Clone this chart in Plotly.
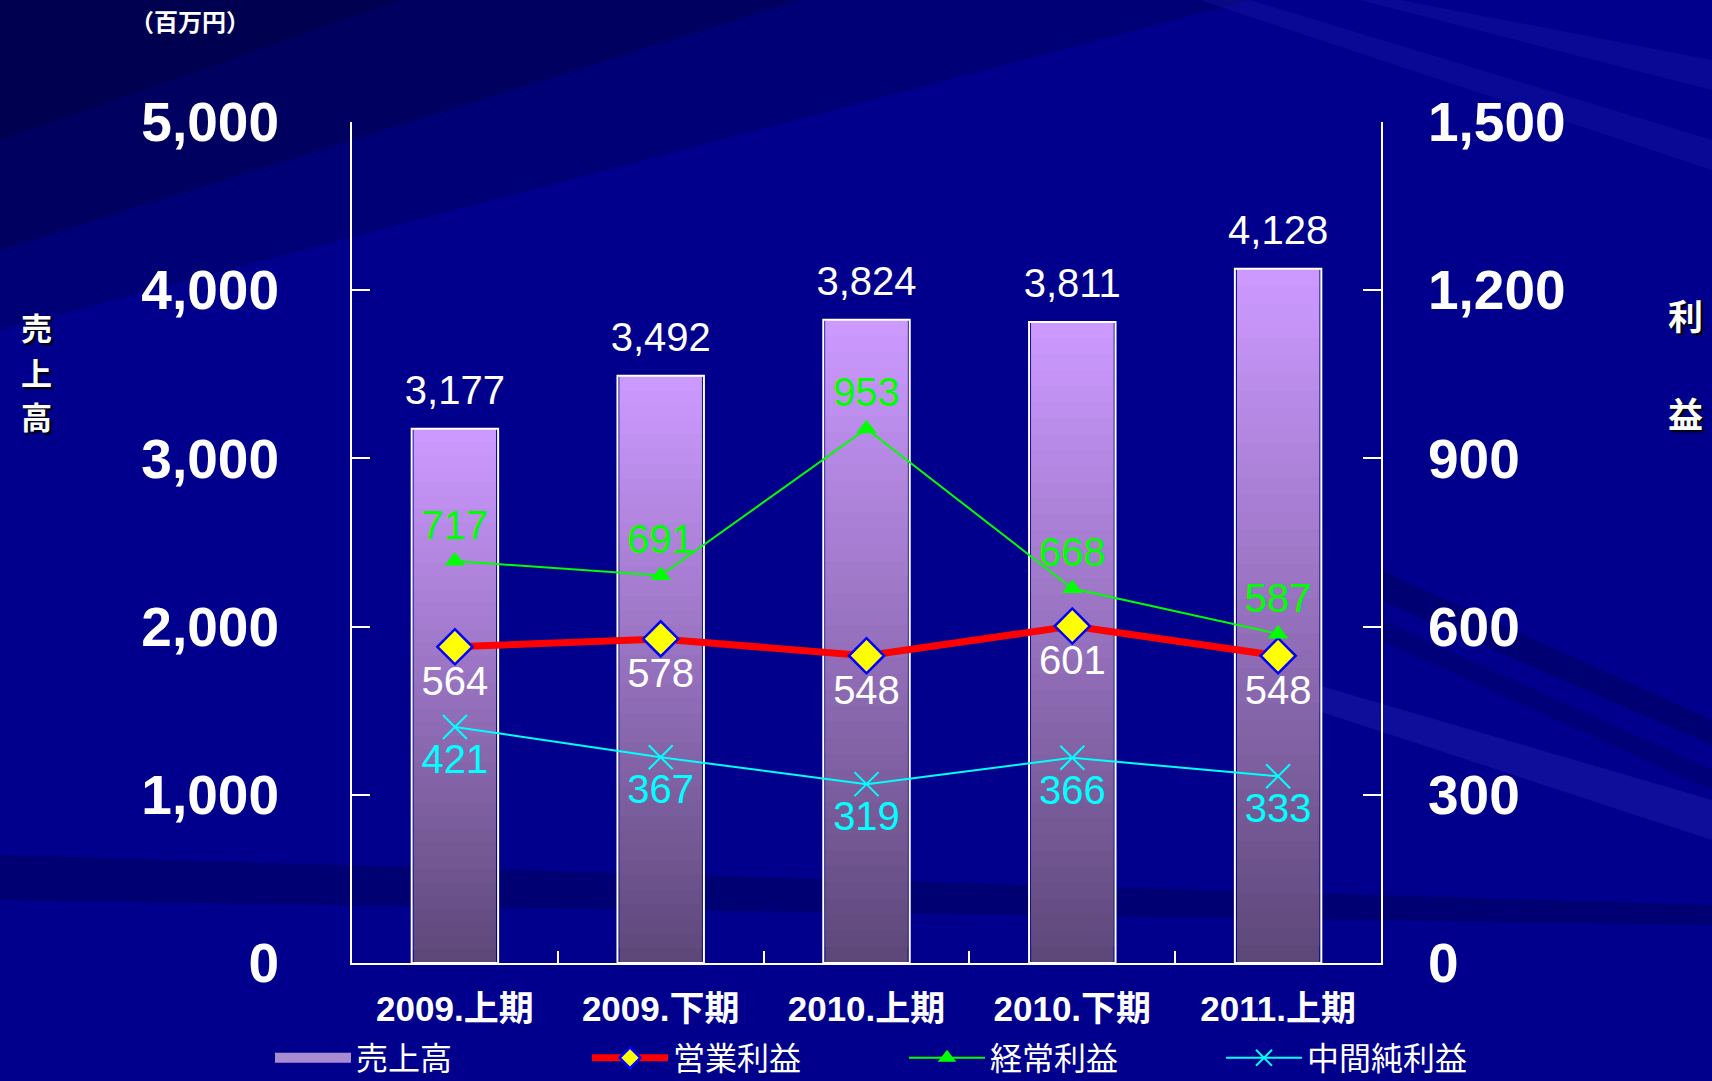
import plotly.graph_objects as go

categories = ["2009.上期", "2009.下期", "2010.上期", "2010.下期", "2011.上期"]
sales = [3177, 3492, 3824, 3811, 4128]
operating_profit = [564, 578, 548, 601, 548]
ordinary_profit = [717, 691, 953, 668, 587]
net_profit = [421, 367, 319, 366, 333]

W, H = 1712, 1081
L, R, T, B = 352, 1381, 122, 963


def px(x):
    return (x - L) / (R - L)


def py(y):
    return (B - y) / (B - T)


CJK = "Liberation Sans, Noto Sans CJK JP, sans-serif"
JP = "Noto Sans CJK JP, Liberation Sans, sans-serif"

fig = go.Figure()

# legend carrier for sales bars (thick line as a wide legend swatch)
fig.add_trace(go.Scatter(
    x=[categories[0]], y=[None], name="売上高", mode="lines",
    line=dict(color="#A98BD2", width=22),
    hoverinfo="skip", legendrank=1,
))

# gradient segments
N = 40
top_c = (204, 153, 255)
bot_c = (94, 72, 122)
for k in range(N):
    t = k / (N - 1)
    c = tuple(round(bot_c[i] + (top_c[i] - bot_c[i]) * t) for i in range(3))
    base = [v * k / N for v in sales]
    hgt = [v * (min(k + 2, N) - k) / N for v in sales]
    fig.add_trace(go.Bar(
        x=categories, y=hgt, base=base, width=0.40,
        marker=dict(color="rgb(%d,%d,%d)" % c, line=dict(width=0)),
        showlegend=False, hoverinfo="skip",
    ))

# outline
fig.add_trace(go.Bar(
    x=categories, y=sales, width=0.42,
    marker=dict(color="rgba(0,0,0,0)", line=dict(color="white", width=2)),
    showlegend=False, hoverinfo="skip",
))

# sales labels
fig.add_trace(go.Scatter(
    x=categories, y=sales, mode="markers+text",
    text=[f"{v:,}" for v in sales], textposition="top center",
    marker=dict(size=22, color="rgba(0,0,0,0)"),
    textfont=dict(size=40, color="white", family=CJK),
    showlegend=False, hoverinfo="skip", cliponaxis=False,
))

fig.add_trace(go.Scatter(
    x=categories, y=operating_profit, name="営業利益", yaxis="y2",
    mode="lines+markers+text", text=[str(v) for v in operating_profit],
    textposition="bottom center",
    textfont=dict(size=40, color="white", family=CJK),
    line=dict(color="#FF0000", width=7),
    marker=dict(symbol="diamond", size=27, color="#FFFF00",
                line=dict(color="#0000FF", width=2.5)),
    cliponaxis=False, legendrank=2,
))

fig.add_trace(go.Scatter(
    x=categories, y=ordinary_profit, name="経常利益", yaxis="y2",
    mode="lines+markers+text", text=[str(v) for v in ordinary_profit],
    textposition="top center",
    textfont=dict(size=40, color="#00FF00", family=CJK),
    line=dict(color="#00FF00", width=2),
    marker=dict(symbol="triangle-up", size=18, color="#00FF00"),
    cliponaxis=False, legendrank=3,
))

fig.add_trace(go.Scatter(
    x=categories, y=net_profit, name="中間純利益", yaxis="y2",
    mode="lines+markers+text", text=[str(v) for v in net_profit],
    textposition="bottom center",
    textfont=dict(size=40, color="#00FFFF", family=CJK),
    line=dict(color="#00FFFF", width=2),
    marker=dict(symbol="x-thin", size=24, color="#00FFFF",
                line=dict(color="#00FFFF", width=2)),
    cliponaxis=False, legendrank=4,
))

# background decoration
shapes = []


def poly(pts, color):
    d = "M" + " L".join(f"{px(x)},{py(y)}" for x, y in pts) + " Z"
    shapes.append(dict(type="path", path=d, xref="paper", yref="paper",
                       fillcolor=color, line=dict(width=0), layer="below"))


poly([(0, 0), (1250, 0), (0, 330)], "rgba(0,0,40,0.22)")
poly([(0, 0), (800, 0), (0, 250)], "rgba(0,0,30,0.25)")
poly([(0, 0), (400, 0), (0, 140)], "rgba(0,0,30,0.25)")
poly([(0, 855), (1712, 905), (1712, 925), (0, 900)], "rgba(0,0,50,0.28)")
poly([(1380, 570), (1712, 720), (1712, 745), (1380, 600)], "rgba(0,0,60,0.3)")
poly([(1380, 620), (1712, 770), (1712, 790), (1380, 640)], "rgba(0,0,60,0.25)")
poly([(1300, 680), (1712, 800), (1712, 840), (1300, 705)], "rgba(70,70,210,0.2)")
poly([(1250, 0), (1712, 140), (1712, 170), (1200, 0)], "rgba(60,60,210,0.15)")
poly([(1400, 0), (1712, 60), (1712, 90), (1360, 0)], "rgba(60,60,210,0.15)")

fig.update_layout(
    width=W, height=H,
    margin=dict(l=L, r=W - R, t=T, b=H - B, pad=0, autoexpand=False),
    paper_bgcolor="#00008C",
    plot_bgcolor="rgba(0,0,0,0)",
    barmode="overlay",
    showlegend=True,
    shapes=shapes,
    font=dict(family=CJK, color="white"),
    legend=dict(
        orientation="h",
        x=px(270), xanchor="left", y=py(1058), yanchor="middle",
        font=dict(size=32, color="white", family=JP),
        itemwidth=76, entrywidth=226, entrywidthmode="pixels",
        bgcolor="rgba(0,0,0,0)", traceorder="normal", borderwidth=0,
        itemclick=False,
    ),
    xaxis=dict(
        type="category", showline=True, linecolor="white", linewidth=2,
        ticks="inside", tickson="boundaries", ticklen=12, tickwidth=2,
        tickcolor="white", showgrid=False, zeroline=False,
        tickfont=dict(size=35, color="white", family=CJK, weight="bold"),
        ticklabelstandoff=14,
    ),
    yaxis=dict(
        range=[0, 5000], dtick=1000, tickformat=",d", showline=True,
        linecolor="white", linewidth=2, ticks="inside", ticklen=18,
        tickwidth=2, tickcolor="white", showgrid=False, zeroline=False,
        tickfont=dict(size=55, color="white", family=CJK, weight="bold"),
        ticklabelstandoff=60,
    ),
    yaxis2=dict(
        range=[0, 1500], dtick=300, tickformat=",d", overlaying="y",
        side="right", showline=True, linecolor="white", linewidth=2,
        ticks="inside", ticklen=18, tickwidth=2, tickcolor="white",
        showgrid=False, zeroline=False,
        tickfont=dict(size=55, color="white", family=CJK, weight="bold"),
        ticklabelstandoff=34,
    ),
    annotations=[
        dict(text="（百万円）", x=px(128), y=py(20), xref="paper", yref="paper",
             xanchor="left", yanchor="middle", showarrow=False,
             font=dict(size=24, color="white", family=JP, weight="bold")),
    ] + [
        dict(text=ch, x=px(36), y=py(yc), xref="paper", yref="paper",
             xanchor="center", yanchor="middle", showarrow=False,
             font=dict(size=31, color="white", family=JP, weight="bold",
                       shadow="2px 2px 2px #000000"))
        for ch, yc in zip("売上高", [326, 371, 416])
    ] + [
        dict(text=ch, x=px(1685), y=py(yc), xref="paper", yref="paper",
             xanchor="center", yanchor="middle", showarrow=False,
             font=dict(size=35, color="white", family=JP, weight="bold",
                       shadow="2px 2px 2px #000000"))
        for ch, yc in zip("利益", [314, 413])
    ],
)

fig.write_html(
    "out.html",
    config={"displayModeBar": False},
    post_script="document.body.style.margin='0';document.body.style.background='#00008C';document.body.style.overflow='hidden';",
)
